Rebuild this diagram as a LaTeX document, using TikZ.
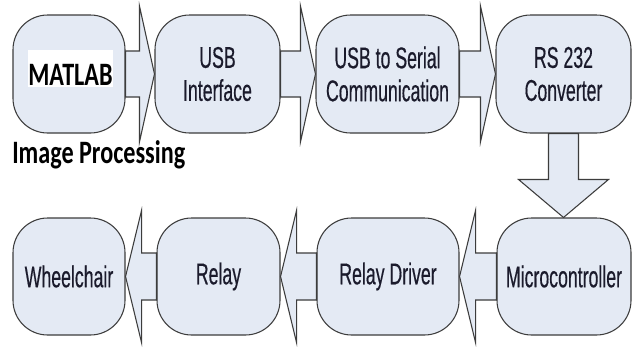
\documentclass[tikz,border=0pt]{standalone}
\usepackage{fontspec}
\setmainfont{Liberation Sans}[FakeStretch=0.59,FakeBold=0.4]
\newfontfamily\calfont{Carlito}[FakeStretch=0.74]
\usetikzlibrary{calc}
\definecolor{ink}{HTML}{1B1B2C}
\definecolor{edge}{HTML}{3C3C3C}
\definecolor{pale}{HTML}{E4EAF4}
\tikzset{
  every node/.style={font=\fontsize{22.5}{24.75}\selectfont,text=ink,inner sep=0pt},
  stage/.style={draw=edge,fill=pale,line width=.8pt,rounded corners=26pt,align=center},
  toprow/.style={stage,minimum height=88.5pt},
  botrow/.style={stage,minimum height=87.75pt},
  blockarrow/.style={draw=edge,fill=pale,line width=.8pt,line join=miter},
  tag/.style={font=\calfont\bfseries\fontsize{24.5}{28}\selectfont,text=black},
}
% block arrows between named stages
\newcommand{\rightblock}[2]{\draw[blockarrow] ($(#1.east)+(0,-23)$) -- ($(#2.west)+(-15,-23)$) -- ($(#2.west)+(-15,-68)$) -- (#2.west) -- ($(#2.west)+(-15,68)$) -- ($(#2.west)+(-15,23)$) -- ($(#1.east)+(0,23)$) -- cycle;}
\newcommand{\leftblock}[2]{\draw[blockarrow] ($(#1.west)+(0,-23.5)$) -- ($(#2.east)+(16,-23.5)$) -- ($(#2.east)+(16,-66)$) -- (#2.east) -- ($(#2.east)+(16,66)$) -- ($(#2.east)+(16,23.5)$) -- ($(#1.west)+(0,23.5)$) -- cycle;}
\newcommand{\downblock}[2]{\draw[blockarrow] ($(#1.south)+(-15,0)$) -- ($(#1.south |- #2.north)+(-15,-38)$) -- ($(#1.south |- #2.north)+(-45,-38)$) -- (#1.south |- #2.north) -- ($(#1.south |- #2.north)+(45,-38)$) -- ($(#1.south |- #2.north)+(15,-38)$) -- ($(#1.south)+(15,0)$) -- cycle;}

\begin{document}
\begin{tikzpicture}[x=.75pt,y=-.75pt]
\path[use as bounding box] (0,0) rectangle (634,347);
\fill[white] (0,0) rectangle (634,347);
% upper row
\node[toprow,minimum width=84pt] (matlab) at (69,74) {};
\node[toprow,minimum width=93.75pt] (usb) at (217.5,74) {USB\\Interface};
\node[toprow,minimum width=107.25pt] (serial) at (387.5,74) {USB to Serial\\Communication};
\node[toprow,minimum width=101.25pt] (rs) at (563.5,74) {RS 232\\Converter};
% lower row
\node[botrow,minimum width=84pt] (wheel) at (69,276.5) {Wheelchair};
\node[botrow,minimum width=92.25pt] (relay) at (218.5,276.5) {Relay};
\node[botrow,minimum width=106.5pt] (driver) at (388,276.5) {Relay Driver};
\node[botrow,minimum width=100.5pt] (micro) at (564,276.5) {Microcontroller};
\rightblock{matlab}{usb}
\rightblock{usb}{serial}
\rightblock{serial}{rs}
\downblock{rs}{micro}
\leftblock{micro}{driver}
\leftblock{driver}{relay}
\leftblock{relay}{wheel}
\node[tag,fill=white,anchor=base,minimum width=62.25pt,text height=24.75pt,text depth=0pt,inner ysep=1.5pt] (mat) at (70.5,85) {MATLAB};
\node[tag,anchor=base west] (imgproc) at (12,163) {Image Processing};
\end{tikzpicture}
\end{document}
